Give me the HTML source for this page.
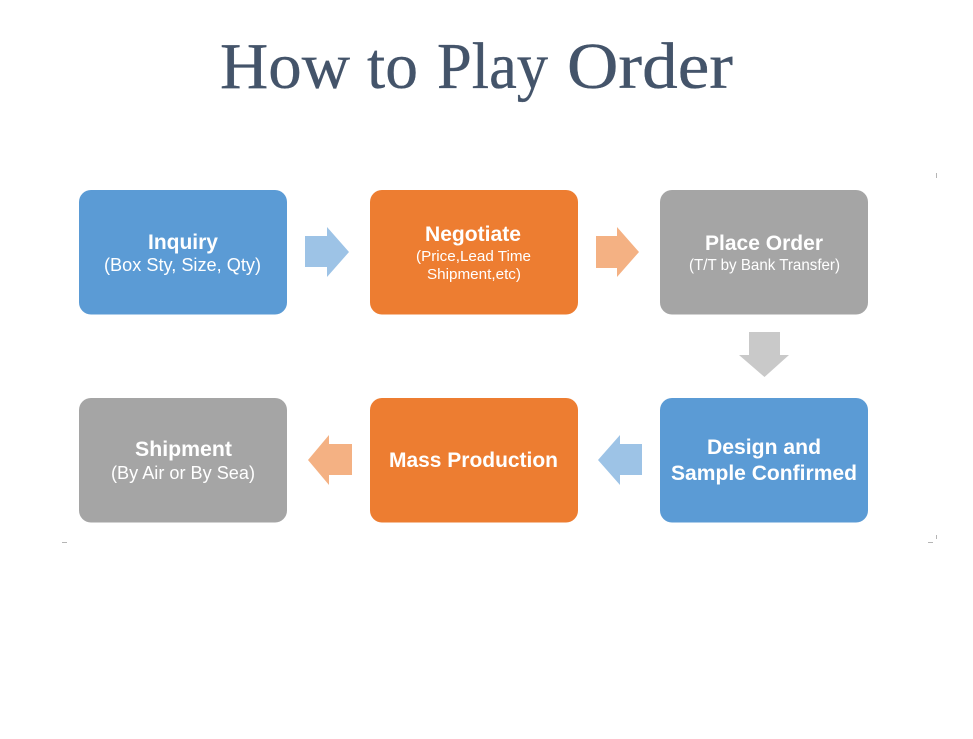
<!DOCTYPE html>
<html>
<head>
<meta charset="utf-8">
<style>
html,body{margin:0;padding:0;background:#fff;width:973px;height:739px;overflow:hidden}
svg{display:block}
.t{font-family:"Liberation Sans",sans-serif;fill:#fff}
.b{font-weight:bold;font-size:21px}
.h{font-family:"Liberation Serif",serif;font-size:66px;fill:#44546a;stroke:#44546a;stroke-width:.35px}
</style>
</head>
<body>
<svg width="973" height="739" viewBox="0 0 973 739" xmlns="http://www.w3.org/2000/svg">
<rect width="973" height="739" fill="#fff"/>
<text class="h" x="220" y="88" textLength="130" lengthAdjust="spacingAndGlyphs">How</text>
<text class="h" x="367" y="88" textLength="51" lengthAdjust="spacingAndGlyphs">to</text>
<text class="h" x="437" y="88" textLength="111" lengthAdjust="spacingAndGlyphs">Play</text>
<text class="h" x="567" y="88" textLength="166" lengthAdjust="spacingAndGlyphs">Order</text>

<rect x="79" y="190" width="208" height="124.500" rx="12" fill="#5b9bd5"/>
<rect x="370" y="190" width="208" height="124.500" rx="12" fill="#ed7d31"/>
<rect x="660" y="190" width="208" height="124.500" rx="12" fill="#a5a5a5"/>
<rect x="660" y="398" width="208" height="124.500" rx="12" fill="#5b9bd5"/>
<rect x="370" y="398" width="208" height="124.500" rx="12" fill="#ed7d31"/>
<rect x="79" y="398" width="208" height="124.500" rx="12" fill="#a5a5a5"/>

<polygon points="305,236 327,236 327,227 349,252 327,277 327,267 305,267" fill="#9dc3e6"/>
<polygon points="596,236 617,236 617,227 639,252 617,277 617,268 596,268" fill="#f4b183"/>
<polygon points="749,332 780,332 780,355 789,355 764.500,377 739,355 749,355" fill="#c9c9c9"/>
<polygon points="642,444 620,444 620,435 598,460 620,485 620,475 642,475" fill="#9dc3e6"/>
<polygon points="352,444 329,444 329,435 308,460 329,485 329,475 352,475" fill="#f4b183"/>

<text class="t b" x="148" y="249" textLength="70" lengthAdjust="spacingAndGlyphs">Inquiry</text>
<text class="t" x="104" y="271" font-size="18" textLength="157" lengthAdjust="spacingAndGlyphs">(Box Sty, Size, Qty)</text>

<text class="t b" x="425" y="241" textLength="96" lengthAdjust="spacingAndGlyphs">Negotiate</text>
<text class="t" x="416" y="261" font-size="15" textLength="115" lengthAdjust="spacingAndGlyphs">(Price,Lead Time</text>
<text class="t" x="427" y="279" font-size="15" textLength="94" lengthAdjust="spacingAndGlyphs">Shipment,etc)</text>

<text class="t b" x="705" y="250" textLength="118" lengthAdjust="spacingAndGlyphs">Place Order</text>
<text class="t" x="689" y="270" font-size="16" textLength="151" lengthAdjust="spacingAndGlyphs">(T/T by Bank Transfer)</text>

<text class="t b" x="707" y="454" textLength="114" lengthAdjust="spacingAndGlyphs">Design and</text>
<text class="t b" x="671" y="480" textLength="186" lengthAdjust="spacingAndGlyphs">Sample Confirmed</text>

<text class="t b" x="389" y="467" textLength="169" lengthAdjust="spacingAndGlyphs">Mass Production</text>

<text class="t b" x="135" y="456" textLength="97" lengthAdjust="spacingAndGlyphs">Shipment</text>
<text class="t" x="111" y="479" font-size="18" textLength="144" lengthAdjust="spacingAndGlyphs">(By Air or By Sea)</text>

<rect x="936" y="173" width="1" height="5" fill="#b5b5b5"/>
<rect x="936" y="535" width="1" height="4" fill="#b5b5b5"/>
<rect x="928" y="542" width="5" height="1" fill="#b5b5b5"/>
<rect x="62" y="542" width="5" height="1" fill="#b5b5b5"/>
</svg>
</body>
</html>
